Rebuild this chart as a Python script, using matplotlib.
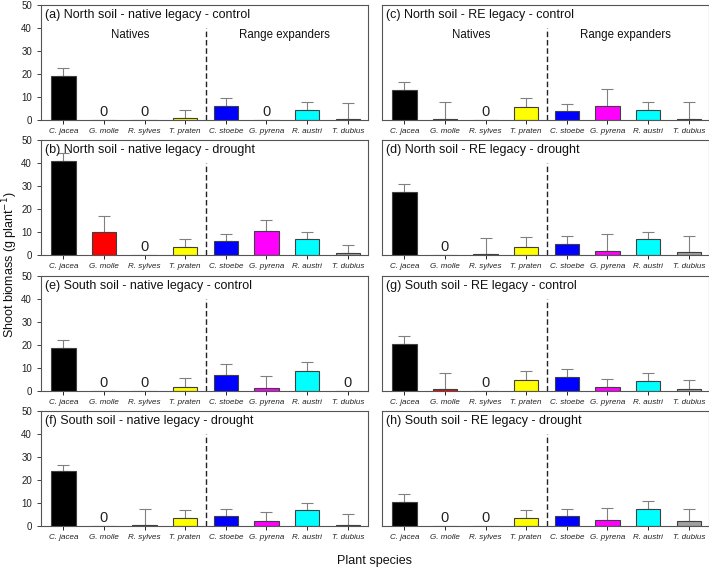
import matplotlib
matplotlib.use("Agg")
import matplotlib.pyplot as plt
import numpy as np

plt.rcParams['font.family'] = ['Liberation Sans', 'DejaVu Sans']

species = ["C. jacea", "G. molle", "R. sylves", "T. praten",
           "C. stoebe", "G. pyrena", "R. austri", "T. dubius"]
colors = ["#000000", "#ff0000", "#0a2a0a", "#ffff00",
          "#0000ff", "#ff00ff", "#00ffff", "#a0a0a0"]

titles = {
    "a": "(a) North soil - native legacy - control",
    "b": "(b) North soil - native legacy - drought",
    "c": "(c) North soil - RE legacy - control",
    "d": "(d) North soil - RE legacy - drought",
    "e": "(e) South soil - native legacy - control",
    "f": "(f) South soil - native legacy - drought",
    "g": "(g) South soil - RE legacy - control",
    "h": "(h) South soil - RE legacy - drought",
}

mean_a = [19.3, 0, 0, 0.9, 6.0, 0, 4.5, 0.6]
err_a = [3.1, 0, 0, 3.5, 3.6, 0, 3.4, 6.9]
mean_b = [40.8, 10.0, 0, 3.5, 5.9, 10.3, 6.8, 0.9]
err_b = [3.4, 7.1, 0, 3.3, 3.2, 5.0, 3.2, 3.4]
mean_c = [13.0, 0.6, 0, 5.8, 3.7, 6.3, 4.5, 0.6]
err_c = [3.4, 7.1, 0, 3.7, 3.2, 7.0, 3.4, 7.1]
mean_d = [27.6, 0, 0.3, 3.6, 4.9, 1.9, 6.8, 1.3]
err_d = [3.3, 0, 7.1, 4.2, 3.2, 7.1, 3.3, 7.1]
mean_e = [18.8, 0, 0, 1.7, 6.8, 1.3, 8.8, 0]
err_e = [3.2, 0, 0, 4.1, 5.0, 5.1, 3.6, 0]
mean_f = [23.7, 0, 0.4, 3.6, 4.2, 2.0, 7.1, 0.4]
err_f = [3.0, 0, 7.1, 3.5, 3.2, 4.1, 2.9, 4.9]
mean_g = [20.4, 0.9, 0, 4.8, 6.2, 1.9, 4.5, 0.9]
err_g = [3.6, 7.0, 0, 4.0, 3.5, 3.4, 3.3, 4.0]
mean_h = [10.6, 0, 0, 3.6, 4.4, 2.6, 7.6, 2.3]
err_h = [3.2, 0, 0, 3.2, 3.2, 5.1, 3.2, 5.1]

data = {"a": (mean_a, err_a), "b": (mean_b, err_b), "c": (mean_c, err_c),
        "d": (mean_d, err_d), "e": (mean_e, err_e), "f": (mean_f, err_f),
        "g": (mean_g, err_g), "h": (mean_h, err_h)}

W, H = 709, 571
fig = plt.figure(figsize=(W / 100, H / 100), dpi=100)

lefts = [41, 382]
width = 327
tops = [5, 140, 276, 411]
height = 115
layout = [["a", "c"], ["b", "d"], ["e", "g"], ["f", "h"]]

x = np.arange(len(species))
for r, row in enumerate(layout):
    for c, key in enumerate(row):
        ax = fig.add_axes([lefts[c] / W, 1 - (tops[r] + height) / H, width / W, height / H])
        m, e = data[key]
        ax.bar(x, m, width=0.6, color=colors, edgecolor="#404040", linewidth=0.8, zorder=2)
        for xi, mi, ei in zip(x, m, e):
            if mi == 0 and ei == 0:
                ax.text(xi, 0.5, "0", ha="center", va="bottom", fontsize=10.5, color="#222222")
            else:
                ax.errorbar(xi, mi, yerr=[[0], [ei]], fmt="none", ecolor="#808080",
                            elinewidth=0.8, capsize=4, capthick=0.8, zorder=1)
        ax.plot([3.5, 3.5], [0, 40], ls=(0, (4, 2)), color="#222222", lw=1.0)
        ax.set_xlim(-0.55, 7.5)
        ax.set_ylim(0, 50)
        ax.set_xticks(x)
        ax.set_xticklabels(species, fontstyle="italic", fontsize=5.8, color="#222222")
        ax.set_yticks([0, 10, 20, 30, 40, 50])
        if c == 0:
            ax.tick_params(axis="y", labelsize=7, colors="#222222", length=3, width=0.6)
        else:
            ax.tick_params(axis="y", left=False, labelleft=False)
        ax.tick_params(axis="x", length=3, width=0.6, pad=3)
        for s in ax.spines.values():
            s.set_color("#555555")
            s.set_linewidth(0.8)
        ax.text(0.012, 0.965, titles[key], transform=ax.transAxes, ha="left", va="top",
                fontsize=9, color="#111111")
        if r == 0:
            ax.text(1.65, 37, "Natives", ha="center", va="center", fontsize=8.3, color="#111111")
            ax.text(5.45, 37, "Range expanders", ha="center", va="center", fontsize=8.3, color="#111111")

fig.text(10 / W, 1 - 265 / H, "Shoot biomass (g plant$^{-1}$)", rotation=90,
         ha="center", va="center", fontsize=9, color="#111111")
fig.text(375 / W, 1 - 561 / H, "Plant species", ha="center", va="center",
         fontsize=9, color="#111111")

fig.savefig("out.png", dpi=100, facecolor="white")
